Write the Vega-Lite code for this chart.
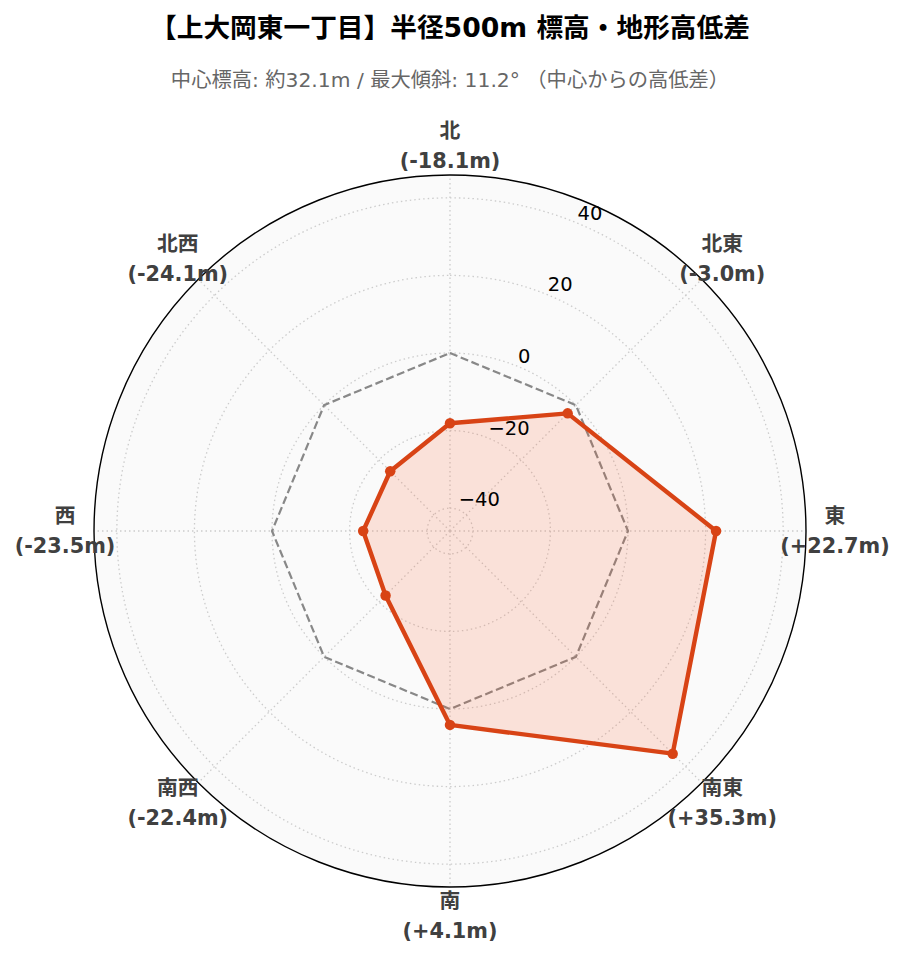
{
  "$schema": "https://vega.github.io/schema/vega-lite/v6.json",
  "width": 712,
  "height": 712,
  "autosize": {"type": "none"},
  "padding": {"left": 94, "top": 175, "right": 97, "bottom": 75},
  "background": "white",
  "config": {"view": {"stroke": null}, "font": "DejaVu Sans, Noto Sans CJK JP"},
  "title": {
    "text": "【上大岡東一丁目】半径500m 標高・地形高低差",
    "subtitle": "中心標高: 約32.1m / 最大傾斜: 11.2° （中心からの高低差）",
    "anchor": "middle",
    "font": "DejaVu Sans, Noto Sans CJK JP",
    "fontSize": 26.7,
    "fontWeight": "bold",
    "color": "#000000",
    "subtitleFont": "DejaVu Sans, Noto Sans CJK JP",
    "subtitleFontSize": 20.3,
    "subtitleColor": "#666666",
    "subtitleFontWeight": "normal",
    "subtitlePadding": 28,
    "offset": 30
  },
  "datasets": {
    "dirs": [
      {"dir": "北", "angle": 0, "value": -18.1, "label": "(-18.1m)", "idx": 0},
      {"dir": "北東", "angle": 45, "value": -3.0, "label": "(-3.0m)", "idx": 1},
      {"dir": "東", "angle": 90, "value": 22.7, "label": "(+22.7m)", "idx": 2},
      {"dir": "南東", "angle": 135, "value": 35.3, "label": "(+35.3m)", "idx": 3},
      {"dir": "南", "angle": 180, "value": 4.1, "label": "(+4.1m)", "idx": 4},
      {"dir": "南西", "angle": 225, "value": -22.4, "label": "(-22.4m)", "idx": 5},
      {"dir": "西", "angle": 270, "value": -23.5, "label": "(-23.5m)", "idx": 6},
      {"dir": "北西", "angle": 315, "value": -24.1, "label": "(-24.1m)", "idx": 7}
    ],
    "rings": [
      {"r": -40, "text": "−40"},
      {"r": -20, "text": "−20"},
      {"r": 0, "text": "0"},
      {"r": 20, "text": "20"},
      {"r": 40, "text": "40"}
    ],
    "outer": [{"r": 45.89}]
  },
  "layer": [
    {
      "data": {"name": "outer"},
      "mark": {"type": "arc", "theta": 0, "theta2": 6.2832, "fill": "#fafafa"},
      "encoding": {
        "radius": {"field": "r", "type": "quantitative", "scale": {"type": "linear", "domain": [-45.89, 45.89], "range": [0, 356], "zero": false}},
        "radius2": {"datum": -45.89}
      }
    },
    {
      "data": {"name": "rings"},
      "mark": {"type": "arc", "theta": 0, "theta2": 6.2832, "fill": "transparent", "stroke": "#cccccc", "strokeWidth": 1.3, "strokeDash": [1.5, 3]},
      "encoding": {
        "radius": {"field": "r", "type": "quantitative", "scale": {"type": "linear", "domain": [-45.89, 45.89], "range": [0, 356], "zero": false}},
        "radius2": {"datum": -45.89}
      }
    },
    {
      "data": {"name": "dirs"},
      "transform": [
        {"calculate": "0", "as": "cx"},
        {"calculate": "91.78 * sin(datum.angle * PI / 180)", "as": "ox"},
        {"calculate": "91.78 * cos(datum.angle * PI / 180)", "as": "oy"}
      ],
      "mark": {"type": "rule", "stroke": "#cccccc", "strokeWidth": 1.3, "strokeDash": [1.5, 3]},
      "encoding": {
        "x": {"field": "cx", "type": "quantitative", "scale": {"domain": [-91.78, 91.78], "nice": false, "zero": false}, "axis": null},
        "y": {"field": "cx", "type": "quantitative", "scale": {"domain": [-91.78, 91.78], "nice": false, "zero": false}, "axis": null},
        "x2": {"field": "ox"},
        "y2": {"field": "oy"}
      }
    },
    {
      "data": {"name": "outer"},
      "mark": {"type": "arc", "theta": 0, "theta2": 6.2832, "fill": "transparent", "stroke": "#000000", "strokeWidth": 1.4},
      "encoding": {
        "radius": {"field": "r", "type": "quantitative", "scale": {"type": "linear", "domain": [-45.89, 45.89], "range": [0, 356], "zero": false}},
        "radius2": {"datum": -45.89}
      }
    },
    {
      "data": {"name": "dirs"},
      "transform": [
        {"calculate": "45.89 * sin(datum.angle * PI / 180)", "as": "zx"},
        {"calculate": "45.89 * cos(datum.angle * PI / 180)", "as": "zy"}
      ],
      "mark": {"type": "line", "interpolate": "linear-closed", "stroke": "#888888", "strokeWidth": 2.2, "strokeDash": [8, 3.6]},
      "encoding": {
        "x": {"field": "zx", "type": "quantitative", "scale": {"domain": [-91.78, 91.78], "nice": false, "zero": false}, "axis": null},
        "y": {"field": "zy", "type": "quantitative", "scale": {"domain": [-91.78, 91.78], "nice": false, "zero": false}, "axis": null},
        "order": {"field": "idx", "type": "quantitative"}
      }
    },
    {
      "data": {"name": "dirs"},
      "transform": [
        {"calculate": "(datum.value + 45.89) * sin(datum.angle * PI / 180)", "as": "px"},
        {"calculate": "(datum.value + 45.89) * cos(datum.angle * PI / 180)", "as": "py"}
      ],
      "mark": {"type": "line", "interpolate": "linear-closed", "stroke": "#D84315", "strokeWidth": 4.4, "fill": "#FF5722", "fillOpacity": 0.15, "strokeJoin": "round"},
      "encoding": {
        "x": {"field": "px", "type": "quantitative", "scale": {"domain": [-91.78, 91.78], "nice": false, "zero": false}, "axis": null},
        "y": {"field": "py", "type": "quantitative", "scale": {"domain": [-91.78, 91.78], "nice": false, "zero": false}, "axis": null},
        "order": {"field": "idx", "type": "quantitative"}
      }
    },
    {
      "data": {"name": "dirs"},
      "transform": [
        {"calculate": "(datum.value + 45.89) * sin(datum.angle * PI / 180)", "as": "px"},
        {"calculate": "(datum.value + 45.89) * cos(datum.angle * PI / 180)", "as": "py"}
      ],
      "mark": {"type": "point", "filled": true, "shape": "circle", "size": 110, "color": "#D84315", "opacity": 1},
      "encoding": {
        "x": {"field": "px", "type": "quantitative", "scale": {"domain": [-91.78, 91.78], "nice": false, "zero": false}, "axis": null},
        "y": {"field": "py", "type": "quantitative", "scale": {"domain": [-91.78, 91.78], "nice": false, "zero": false}, "axis": null}
      }
    },
    {
      "data": {"name": "rings"},
      "transform": [
        {"calculate": "(datum.r + 45.89) * sin(22.5 * PI / 180)", "as": "tx"},
        {"calculate": "(datum.r + 45.89) * cos(22.5 * PI / 180)", "as": "ty"}
      ],
      "mark": {"type": "text", "align": "left", "baseline": "bottom", "dy": 0.5, "fontSize": 19.5, "color": "#000000", "font": "DejaVu Sans"},
      "encoding": {
        "x": {"field": "tx", "type": "quantitative", "scale": {"domain": [-91.78, 91.78], "nice": false, "zero": false}, "axis": null},
        "y": {"field": "ty", "type": "quantitative", "scale": {"domain": [-91.78, 91.78], "nice": false, "zero": false}, "axis": null},
        "text": {"field": "text"}
      }
    },
    {
      "data": {"name": "dirs"},
      "transform": [
        {"calculate": "99.25 * sin(datum.angle * PI / 180)", "as": "lx"},
        {"calculate": "99.25 * cos(datum.angle * PI / 180)", "as": "ly"}
      ],
      "mark": {"type": "text", "align": "center", "baseline": "middle", "dy": -14, "fontSize": 20.8, "fontWeight": "bold", "color": "#404040"},
      "encoding": {
        "x": {"field": "lx", "type": "quantitative", "scale": {"domain": [-91.78, 91.78], "nice": false, "zero": false}, "axis": null},
        "y": {"field": "ly", "type": "quantitative", "scale": {"domain": [-91.78, 91.78], "nice": false, "zero": false}, "axis": null},
        "text": {"field": "dir"}
      }
    },
    {
      "data": {"name": "dirs"},
      "transform": [
        {"calculate": "99.25 * sin(datum.angle * PI / 180)", "as": "lx"},
        {"calculate": "99.25 * cos(datum.angle * PI / 180)", "as": "ly"}
      ],
      "mark": {"type": "text", "align": "center", "baseline": "middle", "dy": 16, "fontSize": 20.8, "fontWeight": "bold", "color": "#404040"},
      "encoding": {
        "x": {"field": "lx", "type": "quantitative", "scale": {"domain": [-91.78, 91.78], "nice": false, "zero": false}, "axis": null},
        "y": {"field": "ly", "type": "quantitative", "scale": {"domain": [-91.78, 91.78], "nice": false, "zero": false}, "axis": null},
        "text": {"field": "label"}
      }
    }
  ]
}
